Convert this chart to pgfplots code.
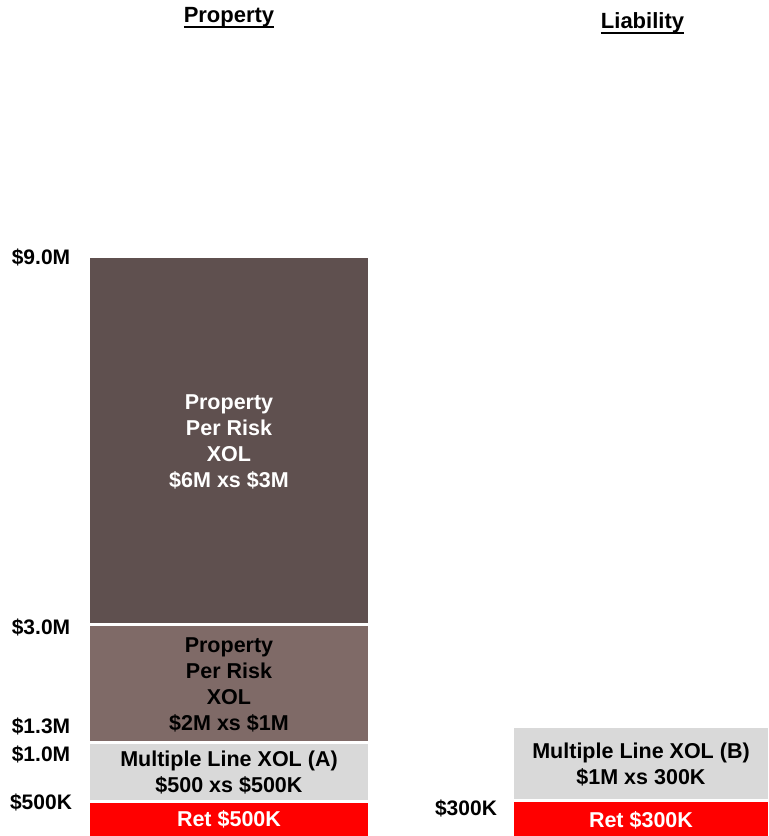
\documentclass[border=0pt]{standalone}
\usepackage{pgfplots}
\pgfplotsset{compat=1.18}
\usepackage{fontspec}
\setmainfont{Liberation Sans}
\definecolor{darkbrown}{HTML}{5F504F}
\definecolor{midbrown}{HTML}{7F6A67}
\definecolor{lgray}{HTML}{D9D9D9}
\definecolor{retred}{HTML}{FF0000}
\newcommand\ul[1]{\setbox0\hbox{#1}\rlap{\rule[-5pt]{\wd0}{2pt}}\box0}
\tikzset{
  seg/.style={font=\bfseries\fontsize{21.5}{26}\selectfont, align=center, inner sep=0pt},
  lim/.style={font=\bfseries\fontsize{21}{25}\selectfont, inner sep=0pt},
  ttl/.style={anchor=base, font=\bfseries\fontsize{22}{26}\selectfont, inner sep=0pt},
}
\begin{document}
\begin{tikzpicture}
\begin{axis}[
  scale only axis, width=769pt, height=836pt,
  xmin=0, xmax=769, ymin=0, ymax=836,
  axis line style={draw=none}, xtick=\empty, ytick=\empty,
  clip=false,
]
% Property tower (display scale)
\addplot[fill=retred, draw=none] coordinates {(90,0) (368,0) (368,33) (90,33)} -- cycle;
\addplot[fill=lgray, draw=none] coordinates {(90,36) (368,36) (368,92) (90,92)} -- cycle;
\addplot[fill=midbrown, draw=none] coordinates {(90,95) (368,95) (368,210) (90,210)} -- cycle;
\addplot[fill=darkbrown, draw=none] coordinates {(90,213) (368,213) (368,578) (90,578)} -- cycle;
% Liability tower
\addplot[fill=retred, draw=none] coordinates {(514,0) (768,0) (768,34) (514,34)} -- cycle;
\addplot[fill=lgray, draw=none] coordinates {(514,37) (768,37) (768,108) (514,108)} -- cycle;

% segment labels
\node[seg, text=white] at (axis cs:229,17) {Ret \$500K};
\node[seg, text=black] at (axis cs:229,63) {Multiple Line XOL (A)\\\$500 xs \$500K};
\node[seg, text=black] at (axis cs:229,151) {Property\\Per Risk\\XOL\\\$2M xs \$1M};
\node[seg, text=white] at (axis cs:229,394) {Property\\Per Risk\\XOL\\\$6M xs \$3M};
\node[seg, text=white] at (axis cs:641,16) {Ret \$300K};
\node[seg, text=black] at (axis cs:641,71) {Multiple Line XOL (B)\\\$1M xs 300K};

% limit labels
\node[lim] at (axis cs:41,579) {\$9.0M};
\node[lim] at (axis cs:41,209) {\$3.0M};
\node[lim] at (axis cs:41,110) {\$1.3M};
\node[lim] at (axis cs:41,82) {\$1.0M};
\node[lim] at (axis cs:41,34) {\$500K};
\node[lim] at (axis cs:466,28) {\$300K};

% titles
\node[ttl] at (axis cs:229,813) {\ul{Property}};
\node[ttl] at (axis cs:642.5,807) {\ul{Liability}};
\end{axis}
\end{tikzpicture}
\end{document}
